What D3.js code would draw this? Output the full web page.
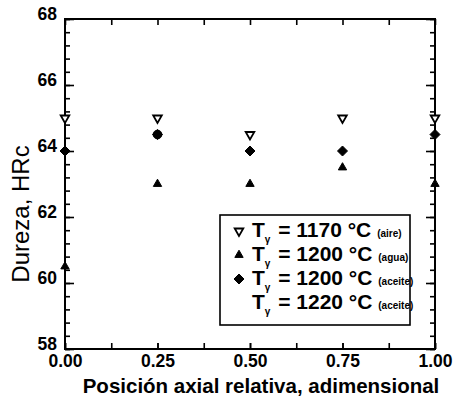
<!DOCTYPE html>
<html>
<head>
<meta charset="utf-8">
<script src="https://cdn.jsdelivr.net/npm/d3@7"></script>
<style>
  html, body { margin: 0; padding: 0; background: #fff; }
  svg { display: block; font-family: "Liberation Sans", Arial, Helvetica, sans-serif; }
</style>
</head>
<body>
<svg id="chart" width="454" height="403"></svg>
<script>
// ---- data ----
const positions = [0.00, 0.25, 0.50, 0.75, 1.00];
const aire1170   = [65.0, 65.0, 64.5, 65.0, 65.0];
const agua1200   = [60.5, 63.0, 63.0, 63.5, 63.0];
const aceite1200 = [64.0, 64.5, 64.0, 64.0, 64.5];
const aceite1220 = [null, 64.5, null, null, null];
const xTickLabels = ["0.00", "0.25", "0.50", "0.75", "1.00"];
const yTickValues = [58, 60, 62, 64, 66, 68];
const legendLabels = [
  { temp: "= 1170 °C", medium: "(aire)" },
  { temp: "= 1200 °C", medium: "(agua)" },
  { temp: "= 1200 °C", medium: "(aceite)" },
  { temp: "= 1220 °C", medium: "(aceite)" }
];

// ---- layout ----
const svg = d3.select("#chart");
const L = 65, R = 435, T = 19, B = 349;
const x = d3.scaleLinear().domain([0, 1]).range([L, R]);
const y = d3.scaleLinear().domain([58, 68]).range([B, T]);

const minorX = d3.range(0, 1.0001, 0.125);
const minorY = d3.range(58, 68.0001, 0.4);

function styleAxis(g) {
  g.select(".domain").remove();
  g.selectAll(".tick line").attr("stroke", "#000").attr("stroke-width", 1.6);
}

// bottom axis
svg.append("g").attr("transform", `translate(0,${B})`)
  .call(d3.axisBottom(x).tickValues(minorX).tickSize(-6).tickFormat(""))
  .call(styleAxis);
svg.append("g").attr("transform", `translate(0,${B})`)
  .call(d3.axisBottom(x).tickValues(positions).tickSize(-6).tickPadding(6)
    .tickFormat((d, i) => xTickLabels[i]))
  .call(styleAxis)
  .call(g => g.selectAll("text").attr("font-size", 17.5).attr("font-weight", "bold").attr("fill", "#000"));
// top axis
svg.append("g").attr("transform", `translate(0,${T})`)
  .call(d3.axisTop(x).tickValues(minorX).tickSize(-6).tickFormat(""))
  .call(styleAxis);
// left axis
svg.append("g").attr("transform", `translate(${L},0)`)
  .call(d3.axisLeft(y).tickValues(minorY).tickSize(-5).tickFormat(""))
  .call(styleAxis);
svg.append("g").attr("transform", `translate(${L},0)`)
  .call(d3.axisLeft(y).tickValues(yTickValues).tickSize(-9).tickPadding(8).tickFormat(d3.format("d")))
  .call(styleAxis)
  .call(g => g.selectAll("text").attr("font-size", 17.5).attr("font-weight", "bold").attr("fill", "#000")
    .attr("dy", "0.05em"));
// right axis
svg.append("g").attr("transform", `translate(${R},0)`)
  .call(d3.axisRight(y).tickValues(minorY).tickSize(-5).tickFormat(""))
  .call(styleAxis);
svg.append("g").attr("transform", `translate(${R},0)`)
  .call(d3.axisRight(y).tickValues(yTickValues).tickSize(-9).tickFormat(""))
  .call(styleAxis);

// frame
svg.append("rect").attr("x", L).attr("y", T).attr("width", R - L).attr("height", B - T)
  .attr("fill", "none").attr("stroke", "#000").attr("stroke-width", 2);

// axis titles
svg.append("text").attr("x", 261).attr("y", 393)
  .attr("text-anchor", "middle").attr("font-size", 20.5).attr("font-weight", "bold")
  .text("Posición axial relativa, adimensional");
svg.append("text").attr("transform", `translate(29,214) rotate(-90)`)
  .attr("text-anchor", "middle").attr("font-size", 24)
  .text("Dureza, HRc");

// ---- markers ----
const symDown = d3.symbol().type(d3.symbolTriangle).size(32);
const symUp = d3.symbol().type(d3.symbolTriangle).size(30);
const diamondType = {
  draw(ctx, size) {
    const r = Math.sqrt(size / 2);
    ctx.moveTo(0, -r); ctx.lineTo(r, 0); ctx.lineTo(0, r); ctx.lineTo(-r, 0); ctx.closePath();
  }
};
const symDiamond = d3.symbol().type(diamondType).size(50);
const symCircle = d3.symbol().type(d3.symbolCircle).size(60);

function drawSeries(vals, sym, opts) {
  svg.append("g").selectAll("path")
    .data(positions.map((p, i) => ({ p, v: vals[i] })).filter(d => d.v != null))
    .join("path")
    .attr("d", sym)
    .attr("transform", d => `translate(${x(d.p)},${y(d.v)})${opts.rot ? " rotate(180)" : ""}`)
    .attr("fill", opts.fill).attr("stroke", "#000").attr("stroke-width", opts.sw || 1);
}
drawSeries(aire1170, symDown, { fill: "#fff", sw: 1.8, rot: true });
drawSeries(agua1200, symUp, { fill: "#000" });
drawSeries(aceite1200, symDiamond, { fill: "#000" });
drawSeries(aceite1220, symCircle, { fill: "#000" });

// ---- legend ----
const lg = svg.append("g");
lg.append("rect").attr("x", 220).attr("y", 215).attr("width", 190).attr("height", 110)
  .attr("fill", "#fff").attr("stroke", "#000").attr("stroke-width", 1.6);
const rowY = [237, 261, 285, 309];
const legendSyms = [
  { sym: symDown, fill: "#fff", sw: 1.8, rot: true },
  { sym: symUp, fill: "#000" },
  { sym: symDiamond, fill: "#000" },
  null
];
legendLabels.forEach((lab, i) => {
  const by = rowY[i];
  const s = legendSyms[i];
  if (s) {
    lg.append("path").attr("d", s.sym)
      .attr("transform", `translate(239,${by - 6})${s.rot ? " rotate(180)" : ""}`)
      .attr("fill", s.fill).attr("stroke", "#000").attr("stroke-width", s.sw || 1);
  }
  const t = lg.append("text").attr("x", 252).attr("y", by).attr("font-weight", "bold").attr("font-size", 21);
  t.append("tspan").text("T");
  t.append("tspan").attr("font-size", 10).attr("dy", 6).text("γ");
  t.append("tspan").attr("dy", -6).attr("dx", 2).text(" " + lab.temp + " ");
  t.append("tspan").attr("font-size", 10).text(lab.medium);
});
</script>
</body>
</html>
